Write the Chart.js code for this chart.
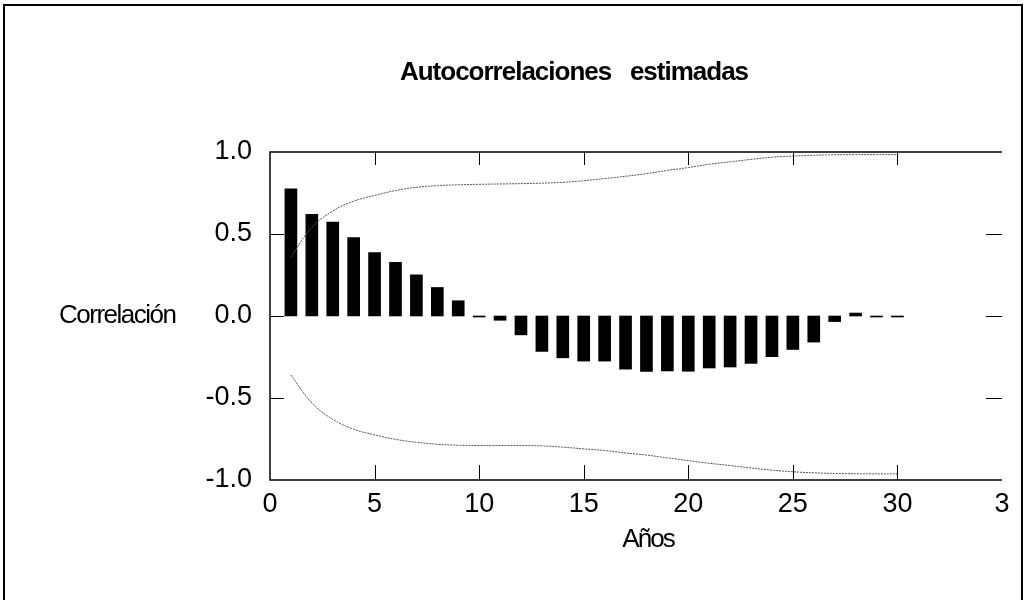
<!DOCTYPE html>
<html>
<head>
<meta charset="utf-8">
<title>Autocorrelaciones estimadas</title>
<script src="https://cdn.jsdelivr.net/npm/chart.js@4/dist/chart.umd.min.js"></script>
<style>
  html, body { margin: 0; padding: 0; background: #fff; }
  #wrap { width: 1028px; height: 600px; }
</style>
</head>
<body>
<div id="wrap"><canvas id="acfChart" width="1028" height="600"></canvas></div>
<script>
// lags (years) and estimated autocorrelations
const lags = [1, 2, 3, 4, 5, 6, 7, 8, 9, 10, 11, 12, 13, 14, 15,
  16, 17, 18, 19, 20, 21, 22, 23, 24, 25, 26, 27, 28, 29, 30];
const acf = [0.775, 0.62, 0.572, 0.478, 0.386, 0.327, 0.251, 0.174, 0.093, -0.006,
  -0.026, -0.115, -0.216, -0.255, -0.275, -0.275, -0.324, -0.338, -0.335, -0.337,
  -0.317, -0.311, -0.289, -0.248, -0.204, -0.159, -0.034, 0.018, -0.004, -0.003];

// confidence bands
const upperBound = [0.36, 0.54, 0.64, 0.70, 0.735, 0.765, 0.785, 0.795, 0.80, 0.803,
  0.805, 0.807, 0.81, 0.815, 0.825, 0.838, 0.852, 0.868, 0.888, 0.905,
  0.925, 0.94, 0.955, 0.968, 0.975, 0.98, 0.983, 0.984, 0.984, 0.984];
const lowerBound = [-0.36, -0.53, -0.63, -0.69, -0.725, -0.752, -0.77, -0.782, -0.788, -0.79,
  -0.79, -0.79, -0.792, -0.80, -0.81, -0.82, -0.835, -0.848, -0.865, -0.882,
  -0.898, -0.912, -0.927, -0.94, -0.95, -0.956, -0.96, -0.962, -0.963, -0.963];

const xTickLabels = ["0", "5", "10", "15", "20", "25", "30", "3"];
const yTickLabels = ["-1.0", "-0.5", "0.0", "0.5", "1.0"];

const titleText = "Autocorrelaciones   estimadas";
const yTitle = "Correlación";
const xTitle = "Años";

const FONT = "'Liberation Sans', Arial, sans-serif";

const toPoints = (ys) => lags.map((x, i) => ({ x: x, y: ys[i] }));

// frame, inward ticks and the free-standing labels
const framePlugin = {
  id: "framePlugin",
  afterDraw(chart) {
    const ctx = chart.ctx;
    const area = chart.chartArea;
    const xs = chart.scales.x;
    const ys = chart.scales.y;
    ctx.save();
    ctx.strokeStyle = "#000";

    // outer border
    ctx.lineWidth = 2;
    ctx.strokeRect(4, 5, 1018, 610);

    // axes box (no right line)
    ctx.lineWidth = 1.5;
    ctx.beginPath();
    ctx.moveTo(area.right, area.top);
    ctx.lineTo(area.left, area.top);
    ctx.lineTo(area.left, area.bottom);
    ctx.lineTo(area.right, area.bottom);
    ctx.stroke();

    ctx.lineWidth = 1;
    ctx.beginPath();
    xs.ticks.forEach(t => {
      if (t.value <= xs.min || t.value >= xs.max) return;
      const px = Math.round(xs.getPixelForValue(t.value)) + 0.5;
      ctx.moveTo(px, area.top);
      ctx.lineTo(px, area.top + 13);
      ctx.moveTo(px, area.bottom);
      ctx.lineTo(px, area.bottom - 15);
    });
    ys.ticks.forEach(t => {
      if (t.value <= ys.min || t.value >= ys.max) return;
      const py = Math.round(ys.getPixelForValue(t.value)) + 0.5;
      ctx.moveTo(area.left, py);
      ctx.lineTo(area.left + 14, py);
      ctx.moveTo(area.right, py);
      ctx.lineTo(area.right - 16, py);
    });
    ctx.stroke();

    ctx.fillStyle = "#000";
    ctx.textBaseline = "alphabetic";

    ctx.font = "bold 26px " + FONT;
    ctx.letterSpacing = "-1px";
    ctx.textAlign = "center";
    ctx.fillText(titleText, 574, 80);

    ctx.font = "26px " + FONT;
    ctx.letterSpacing = "-1.5px";
    ctx.textAlign = "left";
    ctx.fillText(yTitle, 59, 323);

    ctx.letterSpacing = "-2px";
    ctx.textAlign = "center";
    ctx.fillText(xTitle, 648, 547);
    ctx.restore();
  }
};

const ctx = document.getElementById("acfChart").getContext("2d");
const acfChart = new Chart(ctx, {
  type: "bar",
  data: {
    datasets: [{
      type: "line",
      data: toPoints(upperBound),
      borderColor: "#555",
      borderWidth: 1,
      borderDash: [2, 1],
      pointRadius: 0,
      tension: 0.4,
      fill: false
    }, {
      type: "line",
      data: toPoints(lowerBound),
      borderColor: "#555",
      borderWidth: 1,
      borderDash: [2, 1],
      pointRadius: 0,
      tension: 0.4,
      fill: false
    }, {
      type: "bar",
      data: toPoints(acf),
      backgroundColor: "#000",
      borderWidth: 0,
      barThickness: 12,
      minBarLength: 1
    }]
  },
  options: {
    responsive: false,
    animation: false,
    layout: { padding: { top: 152, right: 26, left: 0, bottom: 0 } },
    plugins: {
      legend: { display: false },
      tooltip: { enabled: false },
      title: { display: false }
    },
    scales: {
      x: {
        type: "linear",
        min: 0,
        max: 35,
        offset: false,
        grid: { display: false, drawTicks: false, offset: false },
        border: { display: false },
        ticks: {
          stepSize: 5,
          padding: 8,
          color: "#000",
          font: { family: FONT, size: 27 },
          maxRotation: 0,
          callback: (v) => xTickLabels[Math.round(v / 5)]
        },
        afterFit: (scale) => { scale.height = 120; }
      },
      y: {
        min: -1,
        max: 1,
        grid: { display: false, drawTicks: false },
        border: { display: false },
        ticks: {
          stepSize: 0.5,
          padding: 18,
          color: "#000",
          font: { family: FONT, size: 27 },
          callback: (v) => yTickLabels[Math.round((v + 1) / 0.5)]
        },
        afterFit: (scale) => { scale.width = 270; }
      }
    }
  },
  plugins: [framePlugin]
});
</script>
</body>
</html>
